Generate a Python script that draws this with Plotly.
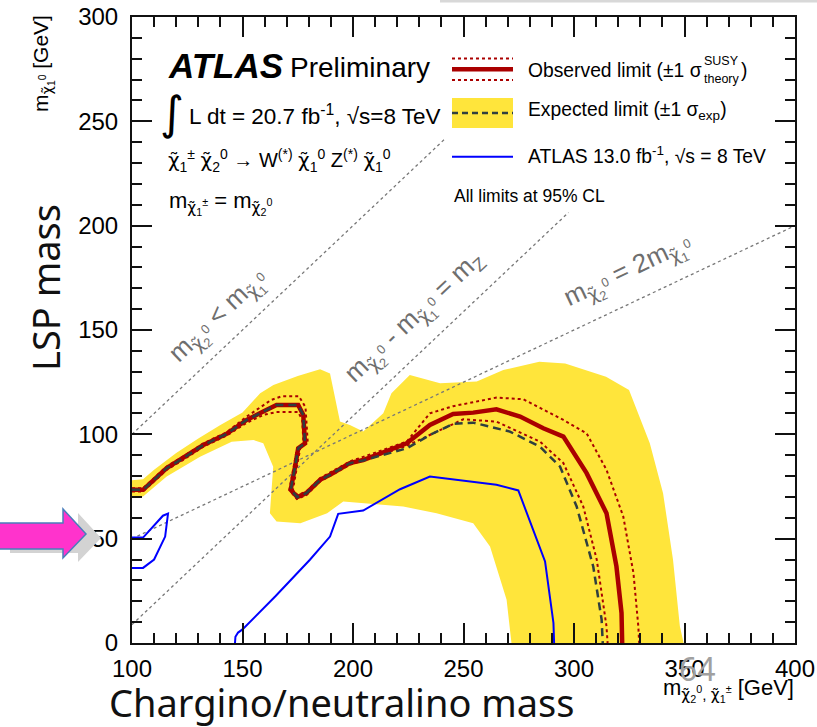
import plotly.graph_objects as go

# ---------------- data (GeV) ----------------
band_x = [100, 105, 115.7, 130.8, 145.1, 154.9, 159.4, 163.9, 162.4, 165.4, 176.2, 188.3, 195.6, 205, 222.7,
          237.8, 254.4, 262, 269.5, 271.7, 349.6, 347.9, 344.8, 340.3, 334.3, 324.9, 314.5, 296, 284.3, 268,
          256, 239.4, 225.7, 217.4, 213.7, 204.6, 198.6, 194.1, 191.9, 189.6, 185.1, 175, 164, 158, 150, 140,
          130, 120, 110, 105, 100]
band_y = [70.2, 70.2, 79.8, 89.3, 96.5, 97.3, 95.7, 84.5, 62.2, 58.2, 57.4, 62.2, 67.8, 67, 65.4,
          62.2, 57.4, 46.2, 20.7, 0, 0, 8, 39.9, 71.8, 95.7, 121.3, 127.6, 134, 134.8, 130.8,
          125.3, 124.5, 128.4, 119.7, 110.1, 101.3, 104.5, 106.1, 118, 129.2, 131.2, 128, 123.6, 119.7, 110.5, 104.5,
          98, 91, 83, 78.5, 78]

obs_x = [100, 105, 115.7, 123.2, 132.3, 142.8, 151.9, 159.4, 165.4, 175.2, 177.5, 178.3, 175.2, 173.8, 171.8,
         174.8, 178.9, 185.1, 189.6, 198.6, 204.6, 224.3, 234.8, 245.3, 254.4, 264.9, 275.6, 286.1, 295.2,
         305.7, 314.7, 319.2, 321.5, 321.8]
obs_y = [73.4, 73.4, 83.8, 88.6, 94.9, 100.2, 106.9, 110.9, 114.1, 114.1, 109.3, 95.7, 93.3, 84.5, 73.4,
         69.9, 71.8, 78.2, 80.6, 86.2, 87.7, 95.7, 104.5, 109.8, 110.4, 112.0, 108.5, 102.9, 98.9,
         81.4, 62.2, 36.7, 14.4, 0]

obs_up_x = [100, 105, 115.7, 123.2, 132.3, 142.8, 151.9, 158.5, 163, 168, 175.5, 178.5, 179.5, 176.2, 174.8,
            172.8, 175, 179, 185.1, 198.6, 224.3, 234.8, 245.3, 264.9, 277.1, 295.2, 305.7, 314.7, 322.3,
            326.9, 329.1, 329.5]
obs_up_y = [74.2, 74.2, 84.6, 89.4, 95.7, 101, 108.5, 113.5, 116.5, 118.3, 118.3, 113, 96.5, 93.8, 84.5,
            73.4, 70.8, 72.7, 79, 87, 96.5, 110.1, 113.5, 117.6, 116.8, 106.9, 100.5, 83, 60.6,
            33.5, 8, 0]

obs_dn_x = [100, 105, 115.7, 123.2, 132.3, 142.8, 151.9, 159.4, 165.4, 175.2, 177, 177.6, 174.6, 173.2, 171.2,
            174.6, 178.9, 185.1, 198.6, 224.3, 234.8, 249.9, 264.9, 284.6, 295.2, 304.2, 310.3, 314.7, 315.2]
obs_dn_y = [72.6, 72.6, 83, 87.8, 94.1, 99.4, 105.5, 109.3, 110.7, 110.7, 107, 95.5, 92.8, 84.5, 73.4,
            69, 70.9, 77.4, 85.4, 94.5, 99.7, 107.2, 106.1, 96.5, 86.2, 65.4, 39.9, 8, 0]

exp_x = [100, 105, 115.7, 123.2, 132.3, 142.8, 151.9, 159.4, 165.4, 175.2, 177.5, 178.3, 175.2, 173.8, 171.8,
         174.8, 178.9, 185.1, 189.6, 198.6, 204.6, 224.3, 234.8, 245.3, 254.4, 271, 284.6, 293.7, 301.2,
         308.7, 312.5, 313]
exp_y = [73.4, 73.4, 83.8, 88.6, 94.9, 100.2, 106.9, 110.9, 114.1, 114.1, 109.3, 95.7, 93.3, 84.5, 73.4,
         69.9, 71.8, 78.2, 80.6, 86.2, 87.5, 93.3, 99.7, 105, 105.6, 101.3, 94.1, 84.5, 65.4,
         36.7, 11.2, 0]

old_a_x = [100, 105, 114, 116.3, 115, 110, 105, 100]
old_a_y = [50.5, 50.5, 61, 62, 51, 40, 36, 36]
old_b_x = [146.6, 146.8, 148, 150, 165, 180.5, 189.6, 193.3, 204.6, 221.3, 234.8, 264.9, 274.8, 286.9, 290.7, 291]
old_b_y = [0, 3, 5, 6.5, 22.5, 39.9, 51, 61.9, 63.5, 73.7, 79.8, 75.8, 73.1, 39.1, 9.6, 0]

kin1_x, kin1_y = [100, 242], [100, 242]
kin2_x, kin2_y = [100, 297.5], [8.8, 206.3]
kin3_x, kin3_y = [100, 400], [50, 200]

x_ticks = [100, 150, 200, 250, 300, 350, 400]
y_ticks = [0, 50, 100, 150, 200, 250, 300]

# ---------------- layout helpers ----------------
W, H = 817, 727
ML, MR, MT, MB = 132, 22, 17, 84
PW, PH = W - ML - MR, H - MT - MB


def px(x):
    return (x - ML) / PW


def py(y):
    return (H - MB - y) / PH


FONT = "Liberation Sans, Arial, Helvetica, sans-serif"
SLIDE = "Noto Sans, Open Sans, sans-serif"
RED = "#aa0000"
YEL = "#ffe53b"
DASHC = "#2f3f3f"
GRAY = "#6e6e6e"

fig = go.Figure()
fig.add_trace(go.Scatter(x=band_x, y=band_y, fill="toself", fillcolor=YEL, mode="lines",
                         line=dict(width=0, color=YEL), hoverinfo="skip"))
for kx, ky in [(kin1_x, kin1_y), (kin2_x, kin2_y), (kin3_x, kin3_y)]:
    fig.add_trace(go.Scatter(x=kx, y=ky, mode="lines", line=dict(color="#777777", width=1.3, dash="dot")))
fig.add_trace(go.Scatter(x=old_a_x, y=old_a_y, mode="lines", line=dict(color="#0000ff", width=2)))
fig.add_trace(go.Scatter(x=old_b_x, y=old_b_y, mode="lines", line=dict(color="#0000ff", width=2)))
fig.add_trace(go.Scatter(x=obs_up_x, y=obs_up_y, mode="lines", line=dict(color=RED, width=2, dash="dot")))
fig.add_trace(go.Scatter(x=obs_dn_x, y=obs_dn_y, mode="lines", line=dict(color=RED, width=2, dash="dot")))
fig.add_trace(go.Scatter(x=obs_x, y=obs_y, mode="lines", line=dict(color=RED, width=4.5)))
fig.add_trace(go.Scatter(x=exp_x, y=exp_y, mode="lines", line=dict(color=DASHC, width=2.5, dash="8px,5px")))

axis_common = dict(
    showgrid=False, zeroline=False, showline=True, linecolor="#111111", linewidth=2,
    mirror="ticks", ticks="inside", ticklen=20, tickwidth=1.5, tickcolor="#111111", automargin=False,
    tickfont=dict(family=FONT, size=24, color="black"),
    minor=dict(dtick=10, ticks="inside", ticklen=10, tickwidth=1.5, tickcolor="#111111"),
)
fig.update_xaxes(range=[100, 400], tickvals=x_ticks, ticktext=[str(v) for v in x_ticks],
                 ticklabelstandoff=3, **axis_common)
fig.update_yaxes(range=[0, 300], tickvals=y_ticks, ticktext=[str(v) for v in y_ticks],
                 ticklabelstandoff=7, **axis_common)

ann = []


def A(x, y, text, size, xa="left", ya="middle", color="black", family=FONT, angle=0):
    ann.append(dict(x=px(x), y=py(y), xref="paper", yref="paper", text=text, showarrow=False,
                    xanchor=xa, yanchor=ya, textangle=angle,
                    font=dict(family=family, size=size, color=color)))


chi = '<span style="font-family:DejaVu Sans">χ̃</span>'
A(166, 66, "<b><i>ATLAS</i></b>", 35)
A(288, 67, "Preliminary", 28)
A(158, 113, "∫", 46, family="DejaVu Sans")
A(187, 115, "L dt = 20.7 fb<sup>-1</sup>, √s=8 TeV", 22.5)
A(166, 160, f"{chi}<sub>1</sub><sup>±</sup> {chi}<sub>2</sub><sup>0</sup> → W<sup>(*)</sup> "
            f"{chi}<sub>1</sub><sup>0</sup> Z<sup>(*)</sup> {chi}<sub>1</sub><sup>0</sup>", 20)
A(167, 203, f"m<sub>{chi}<sub>1</sub><sup>±</sup></sub> = m<sub>{chi}<sub>2</sub><sup>0</sup></sub>", 22)

# legend texts
A(526, 70, "Observed limit (±1 σ", 19.3)
A(702, 61, "SUSY", 12.5)
A(702, 79, "theory", 12.5)
A(739, 70, ")", 19.3)
A(526, 111, "Expected limit (±1 σ<sub>exp</sub>)", 19.3)
A(526, 155, "ATLAS 13.0 fb<sup>-1</sup>, √s = 8 TeV", 19.3)
A(452, 196, "All limits at 95% CL", 17.5)

A(219, 317, f"m<sub>{chi}<sub>2</sub><sup>0</sup></sub> &lt; m<sub>{chi}<sub>1</sub><sup>0</sup></sub>", 26,
  xa="center", color=GRAY, angle=-43.4)
A(415, 318, f"m<sub>{chi}<sub>2</sub><sup>0</sup></sub> - m<sub>{chi}<sub>1</sub><sup>0</sup></sub> = m<sub>Z</sub>",
  26, xa="center", color=GRAY, angle=-43.4)
A(628, 272, f"m<sub>{chi}<sub>2</sub><sup>0</sup></sub> = 2m<sub>{chi}<sub>1</sub><sup>0</sup></sub>", 26,
  xa="center", color=GRAY, angle=-25.3)

# axis titles
A(796, 690, f"m<sub>{chi}<sub>2</sub><sup>0</sup>, {chi}<sub>1</sub><sup>±</sup></sub> [GeV]", 22, xa="right")
A(43, 64, f"m<sub>{chi}<sub>1</sub><sup>0</sup></sub> [GeV]", 21, xa="center", angle=-90)
A(342, 702, "Chargino/neutralino mass", 38, xa="center", color="#111111", family=SLIDE)
A(45, 288, "LSP mass", 38, xa="center", color="#111111", family=SLIDE, angle=-90)
A(697, 668, "64", 32, xa="center", color="#a0a0a0", family=SLIDE)

shapes = []


def hline(x0, x1, y, color, width, dash="solid"):
    shapes.append(dict(type="line", xref="paper", yref="paper", x0=px(x0), x1=px(x1), y0=py(y), y1=py(y),
                       line=dict(color=color, width=width, dash=dash), layer="above"))


hline(452, 513, 58.5, RED, 2, "dot")
hline(452, 513, 69.3, RED, 4.5)
hline(452, 513, 80, RED, 2, "dot")
shapes.append(dict(type="rect", xref="paper", yref="paper", x0=px(452), x1=px(513), y0=py(128), y1=py(98),
                   fillcolor=YEL, line=dict(width=0), layer="above"))
hline(452, 513, 113, DASHC, 2.5, "6px,4px")
hline(452, 513, 156.7, "#0000ff", 2)


def path(pts):
    return "M " + " L ".join(f"{px(a):.5f},{py(b):.5f}" for a, b in pts) + " Z"


arrow = [(-5, 523), (63, 523), (63, 509), (86, 534), (63, 558), (63, 549), (-5, 549)]
shadow = [(a + 15, b + 4) for a, b in arrow]
shapes.append(dict(type="path", xref="paper", yref="paper", path=path(shadow), fillcolor="#d3d3d3",
                   line=dict(width=0), layer="above"))
shapes.append(dict(type="path", xref="paper", yref="paper", path=path(arrow), fillcolor="#ff33cc",
                   line=dict(color="#4a7ebb", width=1.5), layer="above"))
shapes.append(dict(type="rect", xref="paper", yref="paper", x0=px(440), x1=px(817), y0=py(2.5), y1=py(0),
                   fillcolor="#d8d8d8", line=dict(width=0), layer="above"))

fig.update_layout(
    width=W, height=H, margin=dict(l=ML, r=MR, t=MT, b=MB, pad=0, autoexpand=False),
    paper_bgcolor="white", plot_bgcolor="white", showlegend=False,
    annotations=ann, shapes=shapes,
)
fig.write_html("out.html", config={"displayModeBar": False},
               post_script="document.body.style.margin='0';document.body.style.overflow='hidden';")
